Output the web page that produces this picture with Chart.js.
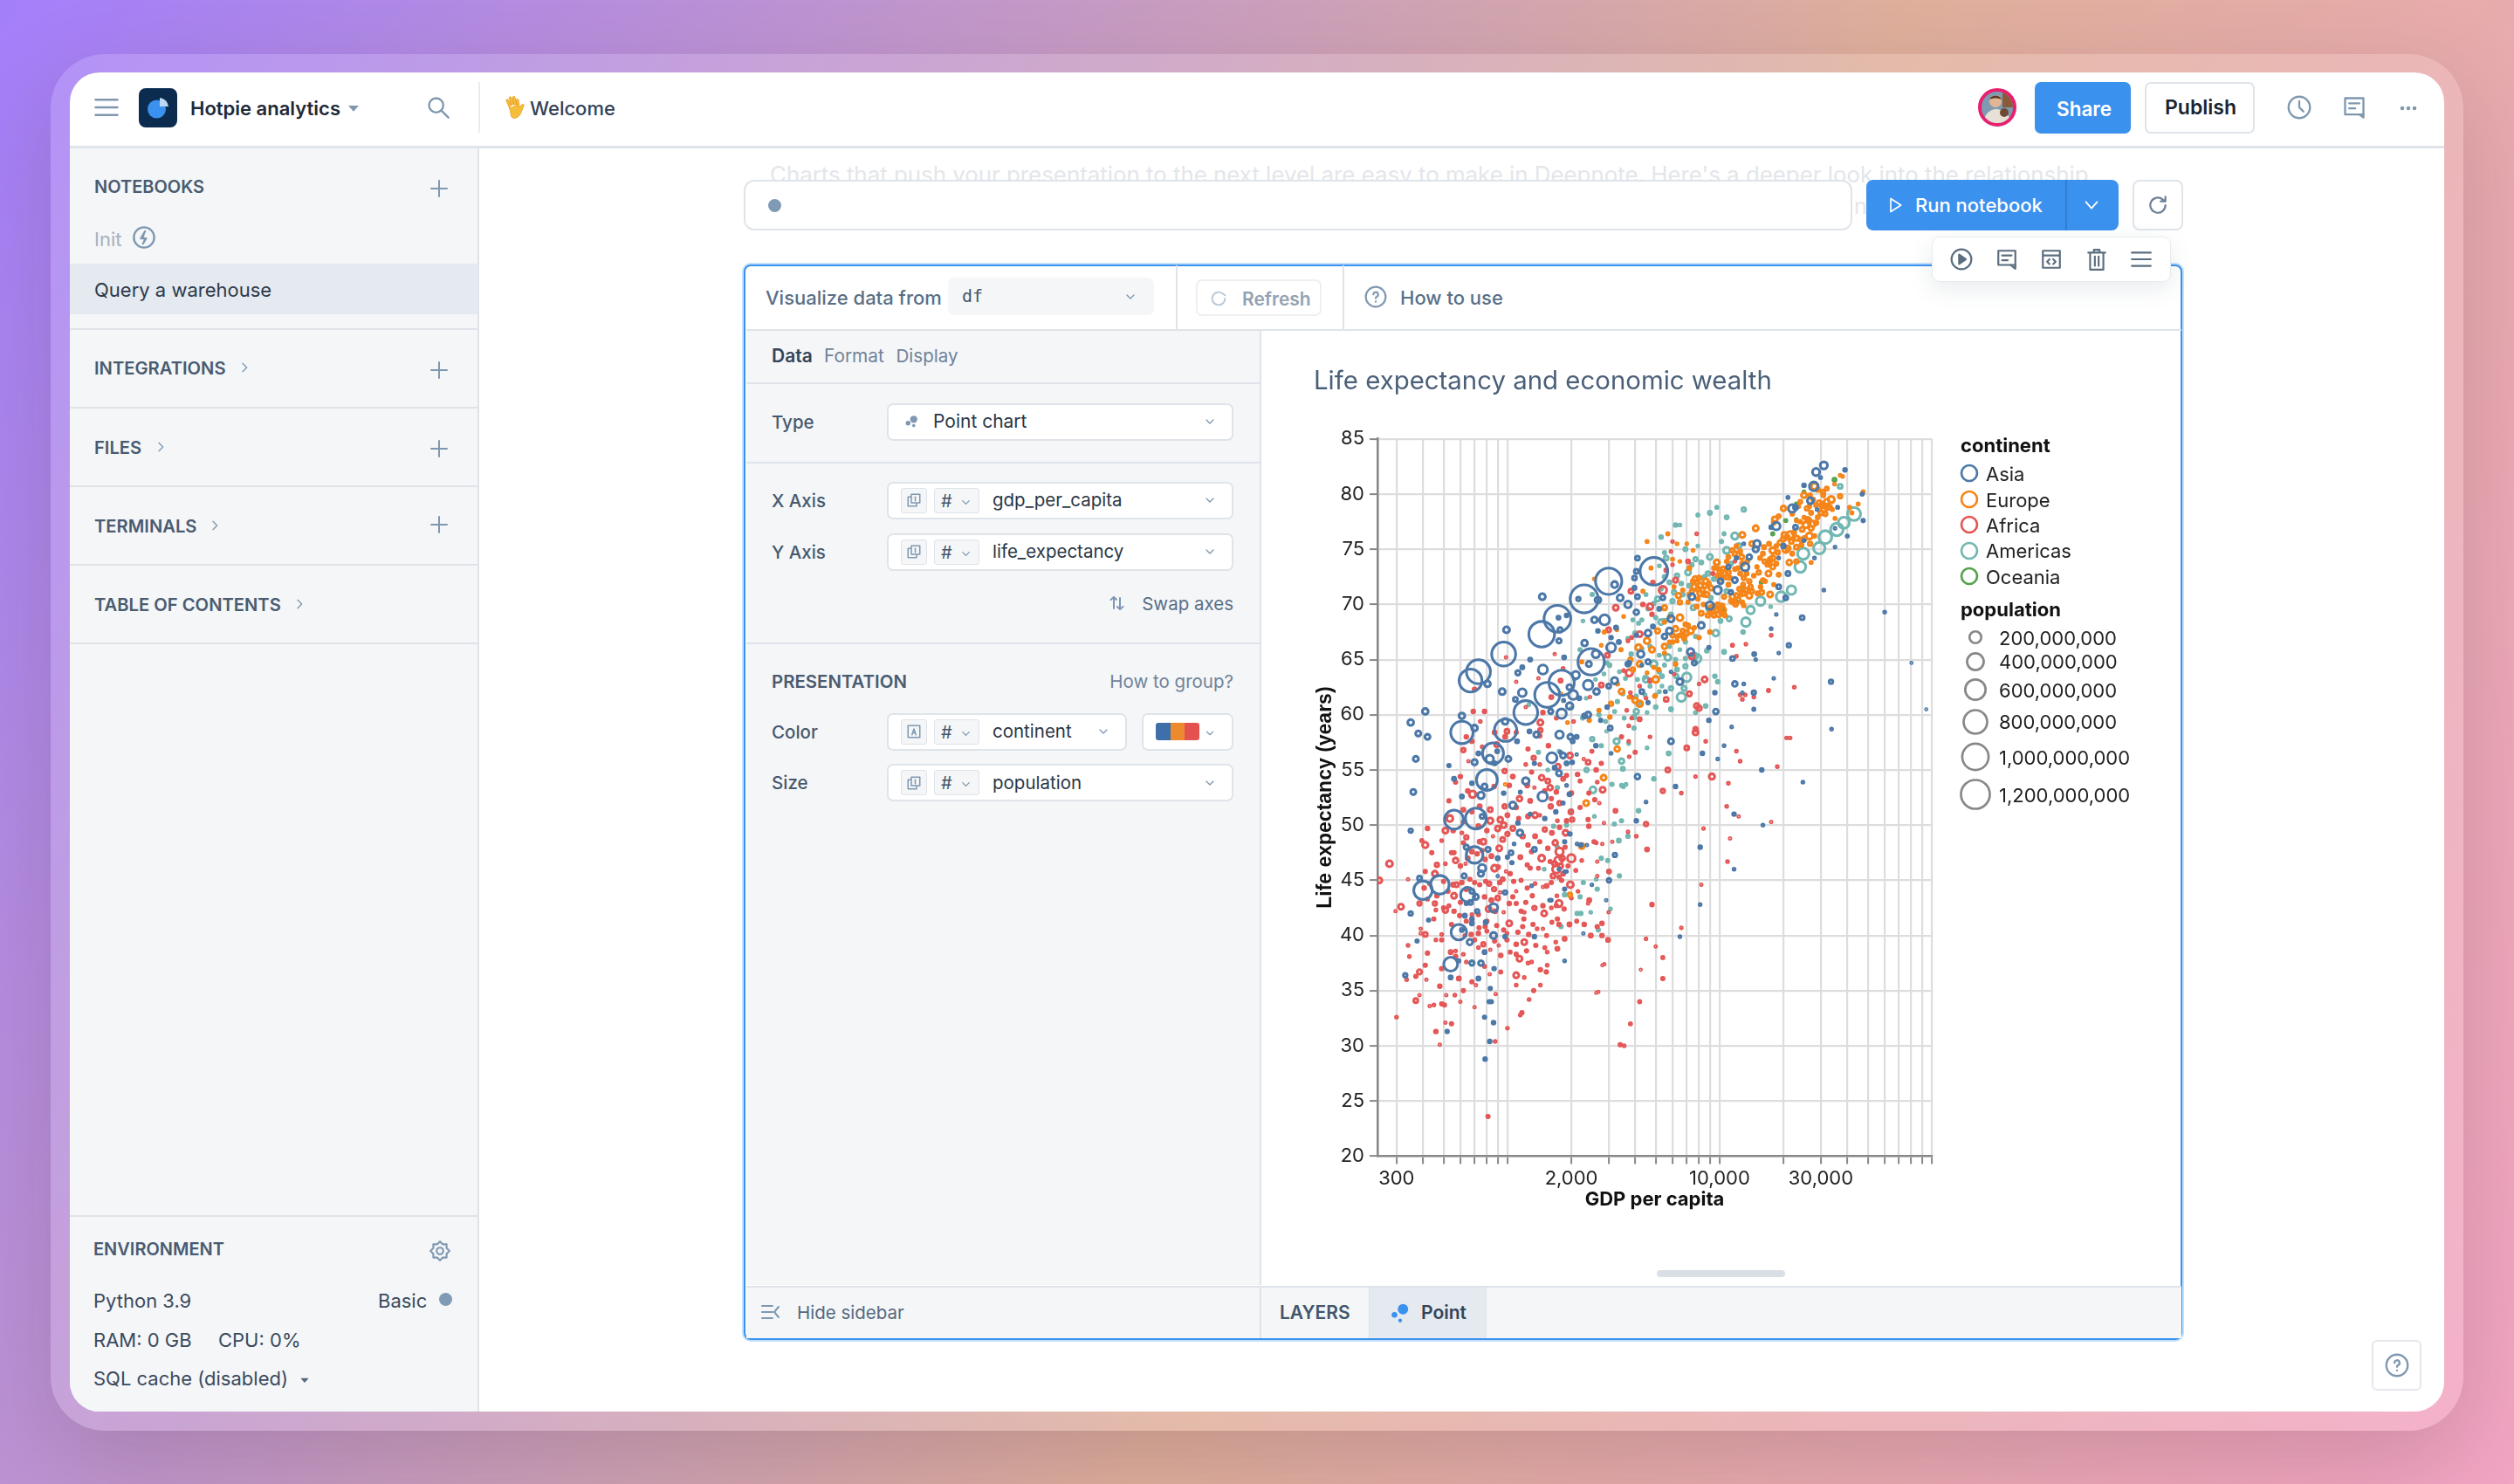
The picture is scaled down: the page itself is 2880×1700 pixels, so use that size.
<!DOCTYPE html>
<html><head><meta charset="utf-8">
<script src="https://cdn.jsdelivr.net/npm/chart.js@4"></script>
<style>
html,body{margin:0;padding:0;width:2880px;height:1700px;overflow:hidden;font-family:Inter,sans-serif}
#bg{position:absolute;inset:0;background:linear-gradient(118deg,#a47ffb 0%,#e0b09c 58%,#f3a5c4 100%)}
.a{position:absolute}
.t{position:absolute;white-space:nowrap;transform:translateY(-50%);line-height:1.2}
canvas{position:absolute}
</style></head><body>
<div id="bg"></div><div id="ui"></div>
<canvas id="c"></canvas>
<div id="ui2"></div>
<script>
// ---- chart data: [gdp per capita, life expectancy, population in millions] ----
const continents=["Asia","Europe","Africa","Americas","Oceania"];
const continentColors=["#4c78a8","#f58518","#e45756","#72b7b2","#54a24b"];
const popLegend=[200,400,600,800,1000,1200];
const popLabels=["200,000,000","400,000,000","600,000,000","800,000,000","1,000,000,000","1,200,000,000"];
const xGridTicks=[300,400,500,600,700,800,900,1000,2000,3000,4000,5000,6000,7000,8000,9000,10000,20000,30000,40000,50000,60000,70000,80000,90000,100000];
const xLabelTicks=[300,2000,10000,30000];
const asiaPoints=[[2300,70.5,1130],[1720,68.7,1030],[1450,67.3,950],[960,65.5,830],[730,63.9,830],[670,63.1,750],[2480,64.8,1000],[1800,62.9,920],[1540,61.8,900],[1220,60.2,820],[980,58.6,720],[610,58.4,720],[855,56.5,640],[800,54.1,630],[710,50.6,630],[560,50.5,520],[3000,72.1,1000],[4900,73,1100],
[1460,70.7,55],[990,67.7,55],[410,60.3,50],[350,59.3,50],[380,58.3,40],[420,58,40],[370,56,40],[360,53,40],[610,59.9,50],[700,58.8,50],[805,62.8,50],[945,62.1,55],[1175,62,90],[1120,63.8,30],[1175,64.3,15],[1280,65,15],[1470,64.1,120],[1750,66.7,30],[1770,67.7,30],[1740,68.8,15],[1900,69,12],[2160,70.5,20],[2670,70.4,50],[2570,68.6,50],[2870,68.6,150],[2670,67.6,12],[2310,66.5,50],[3080,66.1,120],[3080,67,12],[2610,65.5,80],[2420,64.6,40],[1850,65.2,15],[2100,63.6,80],[2400,62.7,130],[1960,62.5,40],[2040,61.8,120],[2630,62.1,50],[3000,62.6,25],[3200,63.1,60],[1965,60.8,65],[1800,60.1,130],[1600,60.3,30],[1840,61.3,8],[1090,61.4,25],[975,59.4,50],[1370,58.2,45],[1270,58.5,15],[1110,57.6,15],[1760,58.2,85],[1980,58,40],[2120,58,15],[2030,57.6,15],[2310,59.9,25],[2400,60,45],[3050,58.8,25],[3080,56.5,6],[2610,57.2,12],[730,56.5,15],[700,55.7,45],[825,56,85],[895,56.7,15],[1010,56,40],[870,55.6,15],[1620,56.1,150],[1780,56.6,8],[1670,55.2,15],[1830,56.3,40],[1900,55.6,15],[2020,55.7,12],[2120,56.4,4],[1750,54.7,40],[1220,54,65],[780,53.5,40],[680,53.8,12],[750,52.7,65],[1465,52.6,130],[1060,51.8,65],[1960,52.8,15],[1900,53.6,6],[1830,52,8],[1690,51.2,12],[760,50.8,25],[1280,51,8],[3200,71.8,55],[3400,70.6,55],
[350,49.5,20],[385,45.2,25],[400,44.1,500],[480,44.6,500],[700,47.3,400],[640,48,30],[810,47.8,30],[760,46.1,80],[750,45.6,45],[625,45.4,30],[650,43.7,300],[680,44,25],[710,43.5,40],[670,43,25],[975,43.9,20],[720,42.2,20],[860,42.5,100],[630,41.8,15],[680,41.5,12],[680,41.1,15],[590,40.3,350],[610,40.5,15],[665,39.4,45],[860,40,55],[975,39.9,12],[1340,39.9,12],[375,39.5,10],[425,41.4,10],[350,42,20],[780,38.5,15],[540,37.4,280],[590,37.7,8],[680,37.5,30],[750,37.5,35],[865,37,12],[730,36.1,15],[330,36.4,20],[540,36.2,15],[830,35.2,10],[820,34,10],[840,34,10],[780,32.6,10],[860,32.1,12],[520,31.3,10],[825,30.4,12],[785,28.8,12],[1040,47.5,25],[1340,47.8,25],[1145,49.3,50],[1075,48.3,6],[1860,48.5,10],[1970,49.2,12],[2130,48.3,6],[2220,48.2,12],[2370,48.2,4],[3210,47.3,20],[3010,45,20],[2920,43.2,4],[1860,44.2,10],[1610,43.2,6],[1580,43.2,6],[1860,45.8,5],[1900,45.8,5],[1750,46,6],[2280,40.2,4],[1860,37.7,6],[900,45.4,4],[1120,50.2,12],
[31000,82.6,75],[28500,82,75],[29900,81.5,8],[39000,82.2,12],[25000,80.8,12],[27800,80.7,110],[21000,79.7,8],[26800,79.4,55],[22000,78.7,85],[22800,78.8,25],[28800,78.6,5],[36000,78.8,8],[47000,80,8],[47500,77.6,10],[35000,76.9,5],[40000,76.2,8],[35000,75.2,5],[28000,74.2,6],[31000,71.3,6],[60000,69.3,6],[24500,68.8,25],[18500,69.1,5],[17500,67.8,6],[21200,66.3,20],[19000,65.6,5],[11500,65.1,25],[8900,66.1,10],[18000,63.3,5],[33500,63,20],[14500,62,20],[13000,62.8,6],[14500,60.5,8],[18500,77.1,85],[17500,77,12],[22800,77,25],[20000,75.3,20],[25000,75.8,8],[15000,75.5,65],[14800,75,45],[13800,74.3,35],[13000,75.5,6],[13200,73.4,85],[19000,71.6,25],[21000,72.8,25],[19000,74.2,6],[20500,70.6,25],[11000,73.4,20],[12000,74.2,10],[11800,72.2,40],[10100,72.1,40],[9800,71.3,85],[11300,71.1,20],[9000,69.9,85],[7400,70.7,55],[8200,68.1,55],[7300,65.7,65],[6500,63,55],[4100,74.2,25],[4050,73,25],[3970,72.4,25],[4100,70.7,25],[3970,71.5,15],[3700,70,65],[4050,69.3,35],[5400,70.6,25],[5200,69.6,15],[5900,68.7,60],[4600,67.4,55],[5500,67.1,35],[5800,67.6,55],[4850,68,15],[4050,67.2,10],[4250,65.5,65],[4600,64.8,30],[3750,64.7,15],[4300,64.5,6],[5550,62.1,8],[5900,63.9,5],
[7600,64.7,30],[14560,65.5,15],[14800,65,5],[11800,62.8,35],[9500,62,12],[12800,62,5],[9600,60.3,35],[8900,59.5,12],[11400,58.9,5],[5900,57.6,40],[10500,57.2,6],[8300,56.5,12],[9800,56,5],[15800,55,12],[6200,53.5,12],[4100,54.4,35],[4500,52.1,6],[4050,50.4,12],[11700,51,12],[8100,48,12],[4600,61.1,10],[4300,62.1,25],[3700,64.6,30],[6500,39.9,6],[8100,42.8,6],[11700,46,6],[16000,50,6],[80200,64.7,3],[94200,60.5,3],[33700,58.7,6],[24700,53.9,6],
[530,55.4,10],[560,54.2,15],[610,52.6,15],[960,52.9,12],[1150,53,8],[1340,55.6,10],[1500,50.6,12],[900,47,15],[1050,46.6,10],[640,42.9,10],[790,41.2,15],[1000,47.1,10],[1300,44.5,6],[2500,44.6,5],[2180,61.5,15],[2750,59.5,10],[2950,60.7,12],[3250,67.9,15],[3350,66.6,15]];
const europePoints=[[2570,72.3,6],[1920,59.3,6],[2430,59.5,10],[2840,54.3,40],[2350,52,40],[3290,56.9,35],[975,53.7,4],[1790,61.9,4],[3080,61,20],[3040,59.8,12],[2860,67.5,10],[2770,66.3,6],[2240,64.8,8],[3430,65.9,10],[3280,67.7,6],[2240,48.1,40],[1970,43.7,20],
[47500,80.2,8],[37000,81.7,6],[38000,81.6,6],[34800,80.9,6],[37000,79.8,20],[33600,79.5,60],[31000,78.7,60],[28000,80.7,60],[31500,78.2,20],[27600,79.5,15],[34000,78.6,8],[25800,78.7,20],[26700,79.9,12],[25000,79.9,40],[20000,78.7,35],[18200,77.7,40],[14800,76.9,40],[12800,76.3,40],[14200,75.5,30],[11800,74.6,25],[12700,74.3,30],[12800,73.7,20],[15000,73.4,10],[17800,74.2,35],[17800,73.4,30],[17000,72.8,40],[15300,72.9,20],[17300,70.9,40],[14200,71.2,20],[13800,70.8,45],[15600,71.6,12],[13300,71.3,25],[12200,70.4,35],[11500,70.7,40],[12000,70.8,25],[10500,70.7,20],[10500,72.8,60],[11000,72.9,25],[9800,72.6,15],[11800,73.2,12],[12200,73.3,12],[7700,72.3,40],[8100,71.7,40],[8600,72.1,40],[7600,71.6,40],[8100,71,40],[8700,70.9,30],[9100,71.5,30],[9200,69.7,40],[9800,69.9,40],[10400,69.5,40],[9900,69.1,40],[8200,69.2,25],[10600,69,15],[8800,69,20],[6400,70.8,35],[6500,70.2,20],[5500,69.7,30],[6500,68.8,55],[5100,67.6,30],[6200,67.8,35],[7300,67.6,50],[7000,67.4,30],[6800,67.1,25],[6300,66.7,8],[5800,66.6,8],[4550,66.7,50],[4800,65.9,40],[5500,66.2,35],[8000,67,12],[9000,67.5,12],[4550,75.7,8],[5700,76.4,8],[6300,75.5,6],[7000,75.5,5],[7500,74.9,6],[6000,74.1,8],[6500,73.9,6],[4750,73.3,8],[7200,73.3,15],[4350,71.2,8],[3530,68.9,6],[6200,64.6,12],[5000,63.2,55],[5150,64.1,12],[4900,64.3,8],[4550,63.8,6],[3900,64.1,20],[3800,65,20],[4950,61.7,12],[3750,61.6,8],[4000,61.3,40],[4200,61,50],[9700,73.8,40],[11500,74.9,20],[21300,73.8,35],[20500,75,60],[21500,76.3,70],[20200,76.3,40],[26500,76.2,60],[25500,77.2,50],[27500,77.3,50],[17800,74.9,50],[17300,74.1,20],[18500,75.3,12],[21000,75.1,30],[24000,75.9,15],[27000,73.8,8],[26700,75.5,20],[28000,76.2,12],[32500,78.9,12],[41000,78.8,8],[45000,79.1,8],[42000,78.3,8],[35000,77.8,8],[24000,77.5,12],[23000,77.6,8],[19000,78,15],[18000,77.4,15],[30800,79.9,15],[32000,80.5,15],[24000,79.3,15],[27000,78.3,15],[30000,78.3,25],[25000,77.9,8],[4200,64.6,40],[4150,66.1,50],[3450,62.1,40],[12500,74.8,15],[13500,73.9,15],[16000,72.2,15],[14500,72.6,12],[11000,71.8,15],[6900,68.2,15],[7800,69.8,15],[6700,67.6,20],[6000,67.2,20],[5500,68.4,8],[16200,75.2,15],[19000,72.7,15],[23000,73.9,20],[22000,74.6,15],[23000,75.2,25],[24500,76.8,25],
[7800,72,25],[8000,72.4,25],[8300,71.3,30],[8500,71.7,25],[7900,71.4,25],[8400,70.9,20],[8900,71.9,15],[7500,72.1,20],[7400,71.2,20],[7200,70.9,12],[9300,69.4,25],[9500,69.8,25],[9700,69.5,30],[10000,69.7,25],[10200,69.2,20],[9400,69,20],[10300,69.9,15],[9000,69.3,15],[10100,72.9,40],[10400,73.2,30],[10800,72.5,30],[10200,72.4,20],[11200,72.4,15],[9900,73.2,15],[12500,72.8,15],[13000,72.4,20],[13400,72.8,15],[13800,72.1,20],[12900,71.8,15],[14000,71.6,20],[13000,71,25],[12400,71.4,20],[12600,70.9,15],[11600,70.2,20],[11900,70,20],[11300,70.3,15],[12800,70.2,12],[15100,71,15],[15800,71.1,25],[16400,72.1,12],[18000,71.8,8],[16800,73.6,15],[17200,73.9,20],[18500,73.7,15],[18800,74.7,20],[19300,75.6,30],[19900,75.9,25],[20800,76.1,30],[21800,75.7,25],[22400,76.5,20],[23100,76,30],[25200,76,20],[24300,75.4,15],[26000,77.7,30],[27000,76.9,30],[26400,77.6,25],[28500,77.4,20],[29000,77.9,15],[29500,79.2,30],[30500,79,40],[32000,79.3,40],[33000,78.8,25],[30700,80.2,20],[31500,78.9,30],[29000,80.4,20],[28500,79,15],[23500,78.9,12],[22000,78.2,12],[26500,78.9,12],[11000,74.3,15],[10800,73.9,12],[9400,73.3,12],[12000,75.3,12],[16000,74.6,15],[16300,73.9,20],[15500,74.2,12],[17100,75.5,15],[13000,69.9,12],[6500,67.2,15],[6800,66.9,15],[7100,68.1,15],[6000,66.6,12],[6300,67.1,12],[7600,67.9,10],[5500,65.6,8],[8400,70,12],[7900,70.5,12],[7100,70.2,10],[6100,71.6,8],[6700,71.3,10],[5800,68.9,8],[3300,62.8,10],[2700,60.4,10]];
const africaPoints=[[690,60.3,12],[780,60.3,12],[745,59.4,6],[640,58,12],[680,57.6,12],[620,56.8,20],[655,55.8,4],[760,57.1,6],[890,57.3,25],[870,58.4,15],[995,58.5,25],[975,58,15],[1100,58.4,10],[1430,59.3,40],[1430,58.6,20],[1420,58.1,12],[1470,60.2,12],[1100,63,4],[700,62.3,12],[985,65.2,4],[1670,65.5,4],[1400,63.3,4],[1780,63.1,15],[1610,61.6,15],[1220,60.7,4],[1830,64.2,6],[2450,61.6,4],[2770,62.7,25],[2960,65.4,25],[3000,67.7,25],[3240,69.7,40],[1250,56.9,10],[1330,56.1,20],[1220,55.5,6],[1730,55.3,35],[1970,56.3,40],[2400,55.7,25],[2290,56,4],[2770,55.6,10],[2620,55,12],[2140,54.6,12],[1830,54.2,15],[1450,54.3,35],[1300,54.8,10],[1420,55.5,6],[1060,54.4,15],[970,54.9,20],[600,54.4,12],[570,53.9,10],[685,52.8,65],[530,52.2,10],[865,53.5,12],[1550,54,25],[1590,53.4,35],[1610,52.4,10],[1760,52,20],[2810,53.2,40],[2650,53.9,6],[2420,52.9,10],[2580,52.3,10],[2710,52,4],[1340,53.4,4],[1280,52.2,15],[1140,52.4,35],[970,51.7,20],[830,51.4,25],[1600,51.7,20],[1420,50.9,6],[1350,50.9,40],[1130,50.6,10],[925,50.5,35],[830,50.4,45],[535,50.6,55],[620,51.4,15],[3230,51.3,15],[1990,51.2,25],[2020,50.5,20],[1900,50.4,12],[1720,50.4,6],
[278,46.5,55],[249,45,40],[315,42.6,40],[297,42.2,4],[340,45.1,4],[410,48.2,45],[395,48.6,8],[440,47.5,10],[420,49.7,12],[510,49.5,40],[555,49.5,12],[465,46.4,20],[510,46.5,6],[570,46.8,35],[560,47.5,10],[545,47.5,10],[490,48.6,6],[640,48.9,20],[620,48.4,10],[610,49.3,6],[740,48.5,15],[770,48.5,40],[760,47.7,10],[785,46.9,12],[680,47.6,15],[635,46.5,4],[900,49.7,35],[960,50,40],[915,47.9,40],[870,46.1,55],[905,46.2,12],[855,49,4],[985,45.8,4],[455,45.6,40],[405,44.3,12],[410,45.8,10],[385,42.9,20],[455,42.9,20],[465,43.6,12],[500,42.5,10],[510,42.3,35],[460,42.3,6],[525,44,10],[560,43.6,40],[575,44.6,25],[555,44.6,15],[610,44.8,12],[665,45.1,10],[700,44.8,10],[790,44.9,10],[820,44.7,20],[920,44.8,12],[1070,44.9,10],[1100,44,4],[865,44.2,20],[780,43.5,12],[925,43.9,4],[815,42.4,40],[875,42.2,15],[960,42.1,4],[595,41.8,10],[545,41,10],[680,41.9,6],[730,41.9,10],[800,41.3,10],[785,40.8,10],[730,40.2,12],[735,40.7,10],[675,40.1,12],[630,40,6],[390,40.6,4],[390,40.2,4],[410,40.1,25],[490,40.1,6],[490,39.6,10],[340,39.1,6],[345,38.1,6],[420,38.4,10],[410,37.3,10],[385,36.7,30],[370,36.3,10],[335,36,6],[415,36,4],[490,37,12],[540,38.5,15],[570,38.6,6],[570,38.1,12],[590,36.1,15],[730,38.9,6],[770,39.2,20],[830,38.7,4],[910,39.1,4],[995,39.6,10],[1100,39.2,12],[1200,39.4,40],[1360,39.1,10],[1230,38.6,10],[1100,38.3,10],[1140,37.9,40],[1250,37.5,6],[825,36.5,4],[1100,36.4,40],[1100,35.5,6],[680,35.8,10],[710,35.5,4],[480,35.4,12],[620,35,10],[565,34.6,6],[515,34.6,4],[385,34.6,4],[370,34.1,25],[450,33.7,6],[430,33.6,4],[490,33.8,10],[505,33.7,10],[600,34,4],[300,32.6,6],[510,32.1,4],[545,32,10],[460,31.3,12],[480,30.1,4],[875,30.4,6],[1000,31.6,6],[1170,33,10],[1150,32.8,6],[1265,34.2,6],[1330,35,10],[1430,35.5,6],[1540,37.3,6],[1525,36.7,10],[1430,36.9,12],[1720,38.8,15],[1690,39.4,6],[1860,39.7,15],[1540,38.5,6],[1750,42.9,60],[1700,42.7,10],[1610,42.5,6],[1470,42.7,12],[1340,42.5,20],[1200,42.1,6],[1195,41.5,10],[1320,41,10],[1490,42,40],[1470,40.6,4],[1380,40.6,6],[1720,41.5,10],[1750,41,12],[1960,41,15],[1020,41.1,40],[890,40.9,10],[960,40.5,10],[1120,40.3,12],[995,40.2,6],[1100,42.9,10],[1220,43,10],[1310,43.6,10],[1350,44.7,6],[1470,44.4,4],[1530,44.5,15],[1610,44.8,10],[1750,45.3,10],[1800,45,10],[1980,44.6,55],[1710,43.6,6],[1240,46.4,10],[1280,46.1,10],[1450,47,55],[1760,47.6,85],[1740,46.8,85],[1700,46,85],[1810,47,35],[2000,47,85],[1680,48.4,35],[1870,48,10],[1880,49.3,40],[1760,49.8,12],[1350,49,15],[2560,48.5,10],[2620,48.4,6],[2800,48.3,4],[3120,48.5,4],[2420,49.9,12],[2650,46.7,4],[3010,45.8,15],[2650,45.4,4],[2430,43.2,15],[2400,42.9,4],[2300,41,12],[2650,40.8,10],[2790,41.1,12],[2470,40,15],[2790,40,12],[2980,39.6,15],[2860,37.4,4],[2680,34.9,4],[3400,30.1,10],[3000,42.1,4],[2850,50.2,4],[810,23.6,10],
[7800,76.4,6],[6000,75.7,6],[5900,74.8,5],[7100,73.9,15],[6000,73.6,5],[5600,73.1,12],[4850,72,12],[6200,72.2,30],[5400,71.3,85],[3820,71.2,25],[4700,69.8,50],[4350,70,12],[4800,69.1,12],[9300,72.8,10],[11800,73.9,6],[4200,67.3,40],[3850,67,8],[3700,66.7,6],[11500,66.3,8],[3750,63.8,65],[3530,64,6],[7200,61.9,30],[8000,62.8,5],[5600,61.4,25],[7800,60.8,35],[3800,62,6],[4500,61.5,6],[6100,63.7,5],[17000,62.2,8],[12800,61.4,6],
[7400,65.3,45],[12000,65.3,6],[8500,63.2,40],[8000,60.6,35],[7700,58.7,20],[7700,58.4,40],[7000,57,25],[8600,57.6,6],[12000,56.7,6],[12500,55.8,6],[20700,57.9,6],[21500,57.9,6],[18700,55.3,6],[9200,54.4,45],[7700,54.4,5],[5700,55,25],[11000,53.8,6],[6600,52.9,6],[5400,53.1,20],[10800,51.7,6],[4500,50.1,20],[4050,49,6],[3700,49.4,5],[4550,47.8,15],[8400,49.7,5],[4000,56.6,10],[4700,58,6],[3750,56.2,5],[3730,57.6,5],[22500,62.5,6],[14500,61.6,6],[13200,61.8,6],[12500,61.8,6],[13300,66.4,5],[17500,67.2,6],[4700,63.1,15],[4200,62.6,6],[3850,61.6,8],[3850,59.7,6],[4200,59.6,15],[3650,60.4,6],[3730,59,6],[3450,58,10],[5400,38,8],[5400,36.1,10],[4200,34,8],[3800,32,8],[3550,30,6],[5000,39,4],[4500,39.7,5],[6600,40.7,5],[8200,44.6,4],[4800,42.8,12],[10900,46.7,6],[11200,48.8,4],[12300,50.8,4],[17500,50.3,4],[4250,36.9,3],[2800,37.3,3],[2620,34.8,3],
[600,46.3,12],[650,47,15],[720,47.4,12],[840,47.2,15],[950,48.7,25],[1000,49.2,20],[1060,49.7,25],[1180,49,20],[1250,48.2,12],[1150,47.1,15],[1300,47.6,12],[1400,46.1,8],[1550,47.9,12],[1620,49.3,15],[1500,49.6,20],[1420,48.5,10],[1640,45.4,25],[1670,46.5,30],[1780,46.3,30],[1830,45.6,15],[1590,46.7,10],[1930,46.3,10],[2100,45.9,8],[2240,46.8,6],[950,45.1,15],[1030,45.6,12],[1160,45,8],[1240,44.3,10],[1060,43.5,10],[1160,42.2,10],[1020,42.9,12],[900,43.4,25],[840,43.2,15],[740,44.6,10],[640,44.2,15],[600,43,10],[500,44.9,10],[430,44.7,8],[420,43.3,8],[530,42.7,8],[560,42.2,12],[640,41.3,10],[700,39.6,10],[800,40.4,8],[870,39.5,10],[930,38.2,12],[1030,38.5,8],[1180,40.8,10],[1260,40.1,12],[1530,40,8],[1620,41.2,8],[1850,42.4,10],[2120,41.3,8],[2000,43.4,6],[2150,44,6],[1500,38.9,8],[1300,37.6,6],[1200,36.2,6],[930,36.7,8],[780,37.2,8],[640,37.6,6],[460,39.6,6],[450,41.5,8],[620,38.3,6],[880,34.7,4],[700,33.5,4],[1000,50.9,15],[1100,51.6,12],[1250,50.8,15],[1240,53.6,15],[1020,53.6,12],[740,51.7,15],[680,51.2,10],[650,53.1,12],[620,50.3,10],[800,49.5,12],[730,49.9,15],[1500,53.1,12],[1700,53,12],[2000,52.9,15],[2200,51.6,10],[2400,50.5,10],[2200,54,8],[1900,54.5,10],[2500,56.7,8],[2050,59.4,6],[1700,59.7,8],[1560,57.2,12]];
const americasPoints=[[2270,68.5,6],[2510,70.9,10],[2200,65.9,10],[3030,64.5,12],[2850,63.7,6],[3370,63.9,6],[2070,63.2,4],[1260,60.9,6],[2700,60,10],[2260,59.7,10],[2930,58.5,4],[2510,57.8,20],[2770,57.2,10],[3270,57.6,45],[1400,56.6,10],[1750,56.7,6],[1550,55,6],[2360,55,20],[2530,53.2,55],[1720,53.4,10],[3110,53.7,10],[2000,51.3,10],[2570,50.8,6],
[1650,49.9,10],[1900,50,10],[3190,50.1,10],[3350,48.6,15],[2770,47,10],[2970,46.8,10],[3370,45.4,10],[1720,48,10],[1490,46,6],[2280,44.8,10],[2620,45.1,6],[2650,44.2,10],[1860,43.7,12],[2200,43.5,10],[2130,42,10],[2220,42,10],[2470,42.1,6],[3060,42.4,6],[1790,40.8,10],[2680,40.5,10],
[43000,78.2,250],[38500,77.4,180],[35700,76.8,230],[31500,76.1,240],[29500,75.1,190],[24800,74.6,190],[24000,73.4,170],[21800,71.3,110],[19500,70.7,140],[15600,70.3,110],[14000,69.5,85],[13300,68.4,110],[9600,67.4,55],[11800,76.2,65],[10800,74.9,60],[12300,75.3,35],[13000,78.6,20],[10800,77.9,15],[9000,78.3,15],[9700,78.8,8],[7900,78.1,8],[6200,77.2,12],[6500,77.2,6],[5300,76.1,12],[10500,76.4,8],[10200,75.7,10],[6900,75,15],[7900,75.3,6],[5500,74.7,8],[5600,74.2,25],[7700,74.1,20],[9000,74.3,40],[9700,73.8,40],[11300,73.7,15],[5200,73.5,6],[7100,72.9,40],[6300,72.6,20],[5800,72,15],[7200,71.7,15],[8800,72.8,20],[10100,72.1,30],[10800,71.2,20],[5100,70.5,30],[6000,70.3,20],[4500,70.9,8],[5500,72.5,12],[5300,68.4,40],[5500,68.5,20],[7500,69.7,25],[8900,69.6,30],[11100,68.7,30],[10100,68.5,15],[12900,67.5,12],[17400,69.8,5],[10500,65.7,15],[7800,65.1,110],[7600,65.3,60],[7000,63.4,110],[6800,62.4,30],[6600,61.6,110],[5900,62.4,20],[6900,64.4,20],[6300,64.1,15],[5350,63.5,15],[9500,63.5,12],[4450,63.4,8],[4150,68.3,8],[4100,63.2,8],[3900,68.6,8],[4000,67.4,15],[5200,65.4,8],[5500,65.5,8],[6500,65.9,6],[4700,62.6,8],[5000,60.7,12],[8600,60.8,12],[3830,65.5,12],[37000,80.7,25],
[9800,63,12],[8700,65.8,12],[5900,60.5,15],[7700,60.2,8],[6250,63.5,20],[5350,62.6,6],[5200,63.9,12],[5700,65.2,55],[4900,64.6,65],[5500,64.5,8],[4500,63.2,50],[5000,61.8,8],[5750,56.5,15],[4900,54.2,12],[4550,57,6],[3730,57.4,6],[3500,55.1,15],[3450,55.8,35],[3450,53.6,8],[3520,53.5,8],[3620,53.7,6],[4150,51.3,12],[3700,49,12],[3450,50.4,10],[4050,60.3,35],[3950,59.8,20],[4550,60.2,6],[3950,58.8,10],[4250,61,15],[4050,61.7,8],[4450,61.8,8],[3550,59.7,8],
[6100,71.1,20],[6700,70.9,15],[7400,73.6,12],[8200,73.8,15],[8500,72.5,12],[9400,72.3,15],[9100,70.6,15],[6600,71.9,12],[5300,71.4,10],[4900,70.1,10],[5900,69.1,15],[4600,69.6,10],[4300,68.6,8],[5000,68.8,10],[4700,66.2,10],[5800,66.2,10],[6900,66.6,10],[7700,67.1,10],[6200,65,10],[6900,65.1,10],[5200,62.1,8],[4300,66,10],[3700,66.9,10],[3600,63.3,8],[3300,61.2,10],[3200,60.3,8],[2900,59.4,8],[3500,61.9,8],[2950,64.7,8],[2600,63.2,6],[2350,61.5,6],[2000,60.6,6]];
const oceaniaPoints=[[34800,81.3,15],[25000,80.2,6],[30800,80.2,4],[23000,79.1,8],[20500,77.6,8],[23000,77.7,5],[17800,76.4,8],[10500,69.4,8],[12000,70.3,6],[12900,71.3,6],[15700,72,8]];
const seriesPoints=[asiaPoints,europePoints,africaPoints,americasPoints,oceaniaPoints];

const radiusOf=p=>0.477*Math.sqrt(p);
const ui=document.getElementById('ui'),ui2=document.getElementById('ui2');
function B(x,y,w,h,css,host){const d=document.createElement('div');d.className='a';d.style.cssText=`left:${x}px;top:${y}px;width:${w}px;height:${h}px;box-sizing:border-box;${css||''}`;(host||ui).appendChild(d);return d}
function T(x,y,s,css,host){const d=document.createElement('div');d.className='t';d.style.cssText=`left:${x}px;top:${y+1.5}px;font-size:22px;color:#3b4a5c;${css||''}`;d.textContent=s;(host||ui).appendChild(d);return d}
function R(xr,y,s,css,host){return T(0,y,s,`left:auto;right:${2880-xr}px;${css||''}`,host)}
function I(cx,cy,s,inner,css,host){const d=document.createElement('div');d.className='a';d.style.cssText=`left:${cx-s/2}px;top:${cy-s/2}px;width:${s}px;height:${s}px;${css||''}`;d.innerHTML=`<svg width="${s}" height="${s}" viewBox="0 0 24 24" fill="none" stroke="#7f98b0" stroke-width="2" stroke-linecap="round" stroke-linejoin="round">${inner}</svg>`;(host||ui).appendChild(d)}
const plus='<path d="M12 3v18M3 12h18"/>',chev='<path d="M6 9l6 6 6-6"/>',chevR='<path d="M9 5l7 7-7 7"/>';
const LINE='#dfe4ea',SEC='#4a5b70';

// window frame
B(58,62,2764,1577,'background:rgba(255,255,255,.14);border-radius:62px;box-shadow:0 36px 110px rgba(70,40,60,.2)');
B(80,83,2720,1534,'background:#fff;border-radius:34px;overflow:hidden');
B(80,168,469,1449,'background:#f4f6f8;border-right:2px solid #dfe3e8;border-bottom-left-radius:34px');
B(80,167,2720,2.5,`background:${LINE}`);
// header
I(122,123,30,'<path d="M2 5h20M2 12h20M2 19h20"/>');
const logo=B(159,101,44,45,'background:#0b2b4f;border-radius:8px');
logo.innerHTML='<svg width="44" height="45" viewBox="0 0 44 45"><circle cx="20.5" cy="24" r="10.5" fill="#3b91ee"/><path d="M24 11a11 11 0 0 1 10 10H24z" fill="#bcd8f5"/></svg>';
T(218,122,'Hotpie analytics','font-weight:600;color:#1f2937;font-size:22px');
I(405,124,18,'<path d="M4 8h16l-8 9z" fill="#7f98b0" stroke="none"/>');
I(502,123,28,'<circle cx="10" cy="10" r="7"/><path d="M15 15l7 7"/>');
B(548,94,2,58,`background:#e8ecf0`);
I(590,123,30,'<path d="M7 13L4 6c-.5-1.4 1.5-2 2-.8l2.6 5M8.6 10L6.6 3.6c-.4-1.4 1.6-2 2.1-.7l2.4 6.6M11 9.5L9.8 3c-.2-1.4 1.9-1.7 2.2-.3l1.6 7M13.5 10l-.4-4.6c-.1-1.4 1.9-1.5 2.1-.2l1 6.8 2-2.6c1-1.1 2.5.1 1.8 1.3L17 18c-1.5 3-4.5 4.5-7 3.6C7.6 20.8 8.4 17 7 13z" fill="#f6bd3a" stroke="#e09a1f" stroke-width=".6"/>');
T(607,122,'Welcome','font-weight:500;color:#334155');
const av=B(2265.5,101,44,44,'border-radius:50%;background:#8a6a55;border:4px solid #e8206e;overflow:hidden');
av.innerHTML='<svg width="36" height="36" viewBox="0 0 36 36"><rect width="36" height="36" fill="#7e9bb3"/><rect x="24" width="12" height="18" fill="#8a5a3a"/><circle cx="16" cy="11" r="7" fill="#e2b594"/><path d="M9 9c2-6 12-6 14 0-4-2-10-2-14 0z" fill="#5b3a26"/><path d="M2 36c1-12 10-17 16-16s14 5 16 16z" fill="#e7e0d6"/><circle cx="26" cy="24" r="5" fill="#6e4a32"/></svg>';
B(2331,94,110,59,'background:#3b91ee;border-radius:7px');
T(2356,122,'Share','color:#fff;font-weight:600;font-size:22.5px');
B(2457,94,125.5,59,'background:#fff;border:2px solid #dfe4ea;border-radius:7px');
T(2480,122,'Publish','color:#1b2430;font-weight:600;font-size:23px');
I(2634,123,28,'<circle cx="12" cy="12" r="10.5"/><path d="M12 6v6l4 4"/>');
I(2697,123,28,'<path d="M3 3h18v16H3z"/><path d="M7 8h10M7 13h6"/><path d="M17 19l4 3v-3"/>');
I(2759,124,24,'<circle cx="5" cy="12" r="1.3" fill="#7f98b0"/><circle cx="12" cy="12" r="1.3" fill="#7f98b0"/><circle cx="19" cy="12" r="1.3" fill="#7f98b0"/>');
// sidebar
T(108,212,'NOTEBOOKS',`font-weight:600;font-size:20px;color:${SEC}`);
I(503,216,24,plus);
T(108,272,'Init','color:#a5b1bf');
I(165,272,28,'<circle cx="12" cy="12" r="10"/><path d="M13 6l-4 7h5l-3 5" fill="#7f98b0"/>');
B(80,302,468,58,'background:#e5e9f0');
T(108,330,'Query a warehouse','color:#2c3a4b');
[376,466,556,646,736,1392].forEach(y=>B(80,y,468,2,`background:#dfe3e8`));
[['INTEGRATIONS',420,280],['FILES',511,184],['TERMINALS',601,246],['TABLE OF CONTENTS',691,343]].forEach(([s,y,cx])=>{T(108,y,s,`font-weight:600;font-size:20.2px;color:${SEC}`);I(cx,y+1,16,chevR)});
[424,514,601].forEach(y=>I(503,y,24,plus));
T(107,1429,'ENVIRONMENT',`font-weight:600;font-size:20px;color:${SEC}`);
I(504,1433,26,'<circle cx="12" cy="12" r="3.5"/><path d="M12 2l3 3h4v4l3 3-3 3v4h-4l-3 3-3-3H5v-4l-3-3 3-3V5h4z"/>');
T(107,1488,'Python 3.9');T(433,1488,'Basic');B(503,1481,15,15,'background:#7f9ab5;border-radius:50%');
T(107,1533,'RAM: 0 GB');T(250,1533,'CPU: 0%');
T(107,1577,'SQL cache (disabled)');I(349,1579,14,'<path d="M4 8h16l-8 9z" fill="#56677c" stroke="none"/>');
// ghost text + run bar
T(882,197,"Charts that push your presentation to the next level are easy to make in Deepnote. Here's a deeper look into the relationship",'color:#e3e6ea;font-size:25.85px');
T(2124,234,'n','color:#e3e6ea;font-size:25px');
B(852,206,1270,58,'background:#fff;border:2px solid #dfe4ea;border-radius:12px');
B(880,228,15,15,'background:#7f9ab5;border-radius:50%');
B(2138,206,289,58,'background:#3b91ee;border-radius:8px');
B(2366,206,1.5,58,'background:#2f7fd6');
I(2171,235,20,'<path d="M6 3l14 9-14 9z" stroke="#fff"/>');
T(2194,233,'Run notebook','color:#fff;font-weight:500;font-size:22px');
I(2396,235,22,'<path d="M5 8l7 8 7-8"/>','filter:brightness(3)');
B(2443,206,57.5,58,'background:#fff;border:2px solid #dfe4ea;border-radius:8px');
I(2472,235,26,'<path d="M20 12a8 8 0 1 1-3-6.2L20 8M20 3v5h-5"/>','filter:brightness(.85)');
// cell
B(852,302.5,1648,1232.5,'background:#fff;border:2.5px solid #3b91ee;border-radius:8px;box-shadow:0 0 0 2px #c4e1fb;overflow:hidden');
B(854.5,378,590,1094,'background:#f4f6f8');
B(854.5,377,1644,2,`background:${LINE}`);
B(1347,304,2,74,`background:${LINE}`);B(1538,304,2,74,`background:${LINE}`);
B(1443,378,2,1094,`background:${LINE}`);
T(877,339,'Visualize data from','color:#5a6f86;font-weight:500;font-size:22px');
B(1085.5,318,236.5,43,'background:#f4f6f8;border-radius:7px');
T(1102,337,'df','font-family:"DejaVu Sans Mono";font-size:20px;color:#43556a');
I(1295,340,16,chev);
B(1370,320,144,42,'border:2px solid #edf0f3;border-radius:7px');
I(1396,342,22,'<path d="M20 12a8 8 0 1 1-3-6.2L20 8"/>','opacity:.55');
T(1423,341,'Refresh','color:#93a2b2;font-weight:600;font-size:21px');
I(1576,340,26,'<circle cx="12" cy="12" r="10.5"/><path d="M9.5 9.5a2.5 2.5 0 1 1 3.5 2.4c-.7.4-1 .9-1 1.6M12 17v.2"/>');
T(1604,339,'How to use','color:#5a6f86;font-weight:500');
// floating toolbar
B(2213,271,273.5,52,'background:#fff;border:1.5px solid #e7ebef;border-radius:9px;box-shadow:0 8px 26px rgba(90,110,130,.14)',ui2);
const tc='filter:brightness(.72)';
I(2247,297,26,'<circle cx="12" cy="12" r="10.5"/><path d="M9.5 7l7 5-7 5z" fill="#7f98b0"/>',tc,ui2);
I(2298.5,297,26,'<path d="M3 3h18v15H3z"/><path d="M7 8h10M7 13h6"/><path d="M16 18l5 4v-4"/>',tc,ui2);
I(2350,297,26,'<path d="M3 3h18v18H3zM3 8h18"/><path d="M10 12l-2.5 2.5L10 17M14 12l2.5 2.5L14 17"/>',tc,ui2);
I(2401.5,297,26,'<path d="M3 5h18M9 5V2h6v3M5 5v18h14V5M10 9v10M14 9v10"/>',tc,ui2);
I(2453,297,26,'<path d="M2 5h20M2 12h20M2 19h20"/>',tc,ui2);
// left panel
T(884,406,'Data','font-weight:600;font-size:21px;color:#33455a');T(944,406,'Format','color:#718399;font-size:20.8px');T(1026.5,406,'Display','color:#718399;font-size:20.6px');
[[438],[528.5],[736]].forEach(([y])=>B(854.5,y,589,2,`background:${LINE}`));
const sel=(x,y,w,h)=>B(x,y,w,h,'background:#fff;border:2px solid #dfe4ea;border-radius:7px');
const labelCss='color:#46596e;font-weight:500;font-size:20.5px';
T(884,482,'Type',labelCss);sel(1016,462,397,43);
I(1044,483,22,'<circle cx="8" cy="14" r="3" fill="#7f98b0" stroke="none"/><circle cx="15" cy="9" r="4.5" fill="#7f98b0" stroke="none"/><circle cx="15" cy="17" r="2" fill="#7f98b0" stroke="none"/>');
T(1069,481.5,'Point chart','color:#2a3746;font-size:21px');I(1385.5,483,16,chev);
function field(y,label,col,x2,w,iconKind){
 if(label)T(884,y-1,label,labelCss);
 sel(1016,y-21.5,w,43);
 B(1032,y-14.5,30,29,'border:1.5px solid #dfe4ea;background:#f4f6f8;border-radius:3px');
 I(1047,y,18,iconKind?'<path d="M3 3h18v18H3z"/><path d="M9 17l3-9 3 9M10 14h4"/>':'<path d="M8 3h13v13H8zM8 7H3v14h13v-5"/><path d="M14 7v6"/>');
 B(1069.5,y-14.5,52.5,29,'border:1.5px solid #dfe4ea;background:#f4f6f8;border-radius:3px');
 T(1078,y-1,'#','color:#44566a;font-size:20px');I(1106,y+1,15,chev);
 T(1137,y-1.5,col,'color:#2a3746;font-size:20.5px');I(x2,y,16,chev);
}
field(573,'X Axis','gdp_per_capita',1385.5,397);
field(632,'Y Axis','life_expectancy',1385.5,397);
I(1280,691,24,'<path d="M8 18V5M4.5 8L8 5l3 3M15 6v13M12 16l3 3 3.5-3"/>');
R(1413,690,'Swap axes','color:#5a6f86;font-size:20.5px');
T(884,779,'PRESENTATION',`font-weight:600;font-size:20.4px;color:${SEC}`);
R(1413,779,'How to group?','color:#718399;font-size:20.5px');
field(838,'Color','continent',1264,275,1);
sel(1308,816.5,105,43);
const pal=B(1324,828,50,20,'border-radius:3px;background:linear-gradient(90deg,#3f6fa8 0 34%,#ee8a2e 34% 66%,#e4524f 66%)');
I(1386,838,14,chev);
field(896.5,'Size','population',1385.5,397);
// bottom bar
B(854.5,1473,1644,2,`background:${LINE}`);
B(854.5,1475,1644,57.5,'background:#f4f6f8');
B(1443,1473,2,60,`background:${LINE}`);
I(883,1503,24,'<path d="M2 5h12M2 12h12M2 19h12M21 6l-5 6 5 6"/>');
T(913,1502,'Hide sidebar','color:#56687d;font-size:20.5px');
T(1466,1502,'LAYERS','color:#43566b;font-weight:600;font-size:21px');
B(1568,1475,134.5,57.5,'background:#e5e9f0;border-left:1.5px solid #dde3ea;border-right:1.5px solid #dde3ea');
I(1604,1503,26,'<circle cx="6" cy="15" r="3" fill="#3b91ee" stroke="none"/><circle cx="15" cy="9" r="5.5" fill="#3b91ee" stroke="none"/><circle cx="12" cy="21" r="2" fill="#3b91ee" stroke="none"/>');
T(1628,1502,'Point','color:#33455a;font-weight:600;font-size:21px');
B(1898,1454.5,147,8,'background:#d9dfe5;border-radius:4px');
// help
B(2717,1534.5,57,58,'background:#fff;border:2px solid #e4e8ed;border-radius:6px');
I(2745.5,1563.5,28,'<circle cx="12" cy="12" r="10.5"/><path d="M9.5 9.5a2.5 2.5 0 1 1 3.5 2.4c-.7.4-1 .9-1 1.6M12 17v.2"/>');

// legends
const svgCircle=(cx,cy,r,stroke)=>{const s=document.createElementNS('http://www.w3.org/2000/svg','svg');s.setAttribute('width',60);s.setAttribute('height',60);s.setAttribute('style',`position:absolute;left:${cx-30}px;top:${cy-30}px`);s.innerHTML=`<circle cx="30" cy="30" r="${r}" fill="none" stroke="${stroke}" stroke-width="2.7"/>`;ui2.appendChild(s)};
T(2246,508,'continent','font-weight:700;color:#111',ui2);
const contY=[542.3,572,601,630.7,660];
continents.forEach((c,i)=>{svgCircle(2256,contY[i],9,continentColors[i]);T(2275,contY[i]-1,c,'color:#222',ui2)});
T(2246,696,'population','font-weight:700;color:#111',ui2);
const popY=[730,757.7,790,826.7,867,910];
popLegend.forEach((p,i)=>{svgCircle(2263,popY[i],radiusOf(p),'#888');T(2290,popY[i]-1,popLabels[i],'color:#222',ui2)});

// chart
const cv=document.getElementById('c');
const CL=1505,CT=420,CW=745,CH=972;
cv.style.left=CL+'px';cv.style.top=CT+'px';cv.width=CW;cv.height=CH;cv.style.width=CW+'px';cv.style.height=CH+'px';
new Chart(cv,{type:'scatter',
 data:{datasets:continents.map((name,i)=>({label:name,
   data:seriesPoints[i].map(([x,y,p])=>({x,y,p})),
   pointRadius:ctx=>radiusOf(ctx.raw.p),pointHoverRadius:ctx=>radiusOf(ctx.raw.p),
   pointBackgroundColor:'rgba(0,0,0,0)',pointBorderColor:continentColors[i],pointBorderWidth:3.1,showLine:false}))},
 options:{responsive:false,animation:false,devicePixelRatio:1,
  layout:{padding:{left:0,top:0,right:37,bottom:0}},
  plugins:{legend:{display:false},tooltip:{enabled:false},
   title:{display:true,text:'Life expectancy and economic wealth',align:'start',color:'#4a5f78',font:{family:'Inter',size:29.4,weight:'400'},padding:{top:0,bottom:47.5}}},
  scales:{
   x:{type:'logarithmic',min:244,max:100000,bounds:'data',
    afterBuildTicks:s=>{s.ticks=xGridTicks.map(v=>({value:v}))},
    afterFit:s=>{s.height=67.5},
    grid:{color:'#dddddd',lineWidth:2.2,tickColor:'#888888',tickLength:9,tickWidth:2},
    border:{color:'#888888',width:2.6},
    ticks:{autoSkip:false,maxRotation:0,minRotation:0,padding:4,color:'#222',font:{family:'Inter',size:22},major:{enabled:false},
     callback:v=>xLabelTicks.includes(v)?v.toLocaleString('en-US'):''},
    title:{display:true,text:'GDP per capita',color:'#111',font:{family:'Inter',size:22,weight:'700'},padding:{top:0,bottom:4}}},
   y:{type:'linear',min:20,max:85,
    afterFit:s=>{s.width=73},
    grid:{color:'#dddddd',lineWidth:2.2,tickColor:'#888888',tickLength:9,tickWidth:2},
    border:{color:'#888888',width:2.6},
    ticks:{stepSize:5,autoSkip:false,padding:6,color:'#222',font:{family:'Inter',size:22}},
    title:{display:true,text:'Life expectancy (years)',color:'#111',font:{family:'Liberation Sans',size:23,weight:'700'},padding:{top:0,bottom:0}}}
  }}});
</script>
</body></html>
